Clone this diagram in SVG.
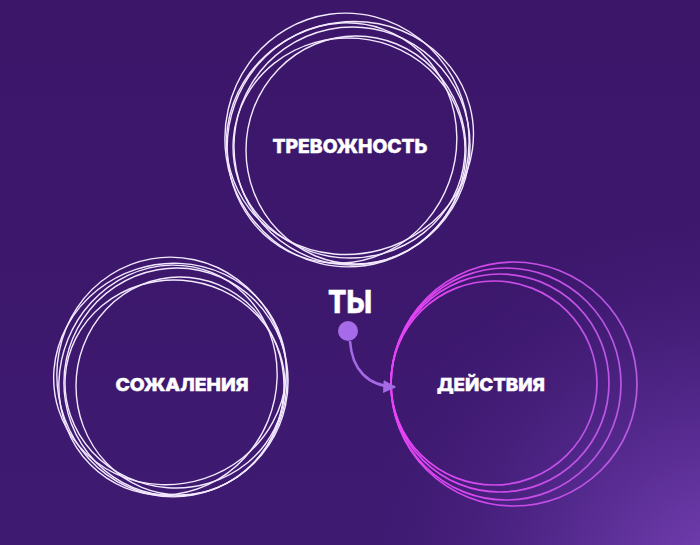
<svg xmlns="http://www.w3.org/2000/svg" width="700" height="545" viewBox="0 0 700 545">
<defs>
<linearGradient id="bg" x1="0" y1="0" x2="0" y2="1">
<stop offset="0" stop-color="#3b1669"/>
<stop offset="1" stop-color="#3e1a71"/>
</linearGradient>
<radialGradient id="glow" cx="720" cy="580" r="360" gradientUnits="userSpaceOnUse">
<stop offset="0" stop-color="#7c45ba" stop-opacity="0.95"/>
<stop offset="0.45" stop-color="#6434a2" stop-opacity="0.6"/>
<stop offset="1" stop-color="#4a2080" stop-opacity="0"/>
</radialGradient>
<linearGradient id="mag" x1="390" y1="0" x2="640" y2="0" gradientUnits="userSpaceOnUse">
<stop offset="0" stop-color="#e743f6"/>
<stop offset="0.5" stop-color="#c94be8"/>
<stop offset="1" stop-color="#b65ae0"/>
</linearGradient>
<marker id="ah" viewBox="0 0 10 10" refX="9" refY="5" markerWidth="5" markerHeight="5" orient="auto" markerUnits="strokeWidth">
<path d="M0,0 L10,5 L0,10 Z" fill="#a46ae6"/>
</marker>
<style>
.w{fill:none;stroke:#f3e9ff;stroke-width:1.4}
.m{fill:none;stroke:url(#mag);stroke-width:1.7}
.lbl{font-family:Inter,"Liberation Sans",sans-serif;font-weight:800;fill:#ffffff;stroke:#ffffff;stroke-width:0.5;text-anchor:middle}
</style>
</defs>
<rect width="700" height="545" fill="url(#bg)"/>
<rect width="700" height="545" fill="url(#glow)"/>

<g id="node-trevozhnost">
<ellipse class="w" cx="347" cy="140" rx="122" ry="127" transform="rotate(-8 347 140)"/>
<ellipse class="w" cx="352" cy="146" rx="118" ry="119" transform="rotate(10 352 146)"/>
<ellipse class="w" cx="350" cy="138" rx="124" ry="116" transform="rotate(-15 350 138)"/>
<ellipse class="w" cx="356" cy="150" rx="110" ry="114"/>
<ellipse class="w" cx="342" cy="143" rx="114" ry="121" transform="rotate(20 342 143)"/>
<ellipse class="w" cx="349" cy="148" rx="116" ry="110" transform="rotate(5 349 148)"/>
<text class="lbl" x="350" y="153" font-size="19" textLength="155" lengthAdjust="spacingAndGlyphs">ТРЕВОЖНОСТЬ</text>
</g>

<g id="node-sozhaleniya">
<ellipse class="w" cx="172" cy="377" rx="115" ry="120" transform="rotate(-10 172 377)"/>
<ellipse class="w" cx="176" cy="382" rx="112" ry="114" transform="rotate(12 176 382)"/>
<ellipse class="w" cx="170" cy="374" rx="117" ry="110" transform="rotate(-18 170 374)"/>
<ellipse class="w" cx="180" cy="386" rx="104" ry="109"/>
<ellipse class="w" cx="168" cy="380" rx="108" ry="116" transform="rotate(22 168 380)"/>
<ellipse class="w" cx="175" cy="384" rx="110" ry="104" transform="rotate(4 175 384)"/>
<text class="lbl" x="182" y="391" font-size="18" textLength="133" lengthAdjust="spacingAndGlyphs">СОЖАЛЕНИЯ</text>
</g>

<g id="node-deystviya">
<ellipse class="m" cx="494" cy="383" rx="103" ry="102"/>
<ellipse class="m" cx="500" cy="383" rx="109" ry="109"/>
<ellipse class="m" cx="506" cy="384" rx="115" ry="116"/>
<ellipse class="m" cx="514" cy="384" rx="123" ry="122"/>
<text class="lbl" x="491" y="391" font-size="18" textLength="108" lengthAdjust="spacingAndGlyphs">ДЕЙСТВИЯ</text>
</g>

<g id="node-ty">
<text class="lbl" x="350" y="313" font-size="31" textLength="44" lengthAdjust="spacingAndGlyphs">ТЫ</text>
<circle cx="348" cy="331" r="10" fill="#a66be8"/>
</g>

<g id="connectors">
<path d="M350,341 C352,370 368,386 395,387" fill="none" stroke="#a46ae6" stroke-width="2.6" marker-end="url(#ah)"/>
</g>
</svg>
